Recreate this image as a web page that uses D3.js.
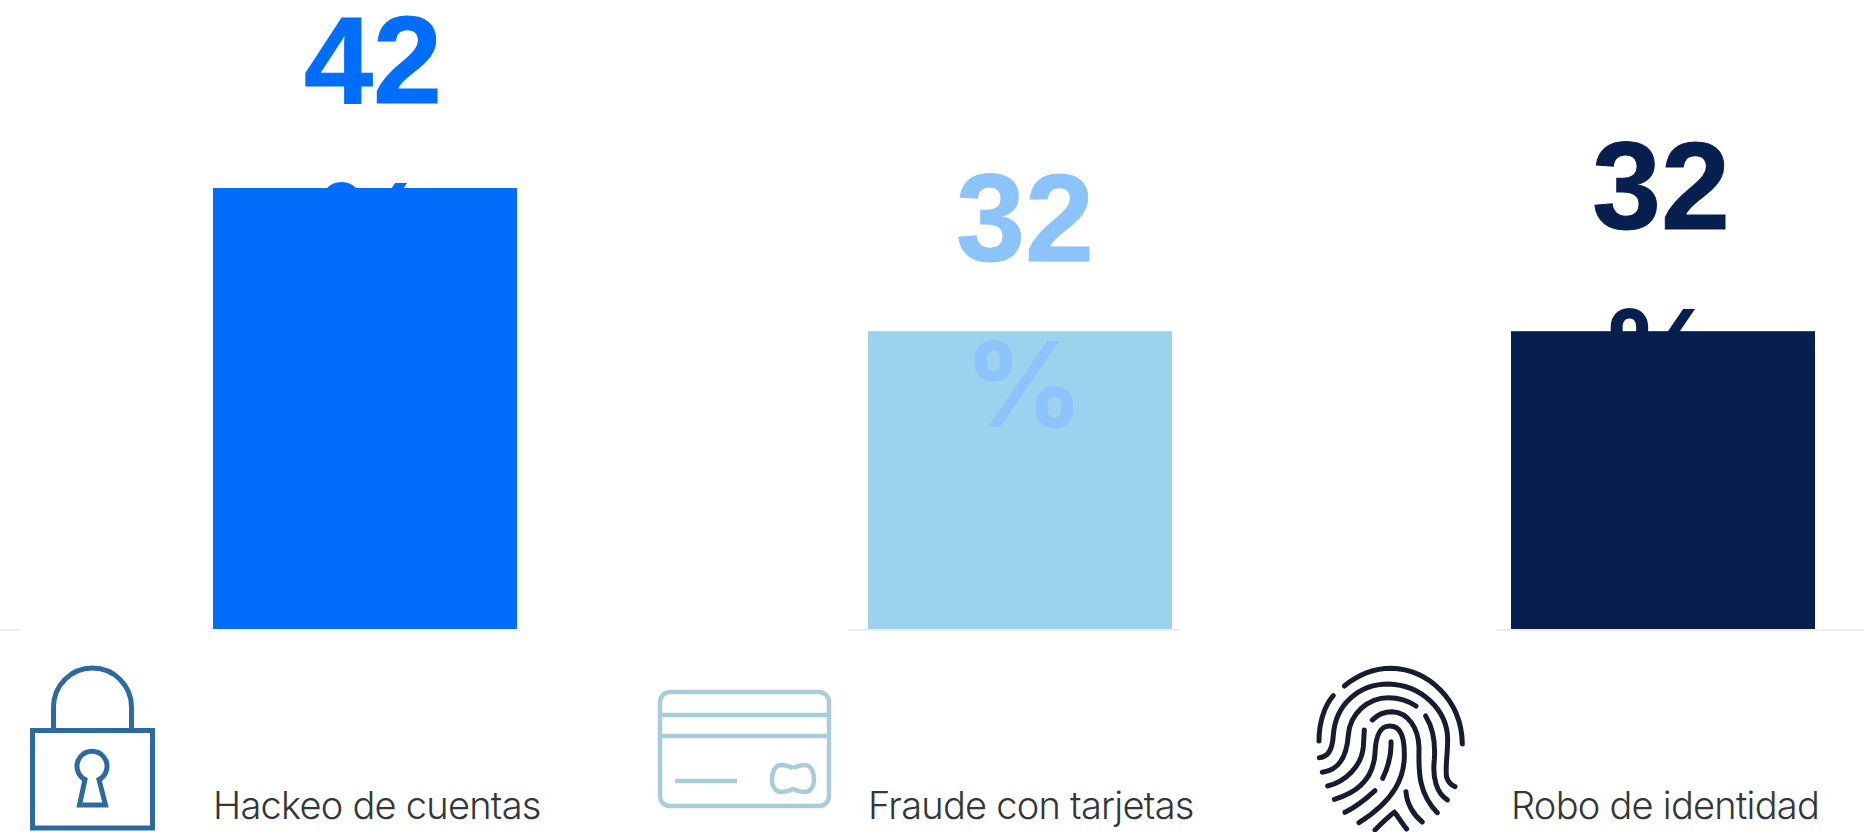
<!DOCTYPE html>
<html>
<head>
<meta charset="utf-8">
<script src="https://cdn.jsdelivr.net/npm/d3@7"></script>
<style>
  html, body { margin: 0; padding: 0; background: #fff; overflow: hidden; }
  svg { display: block; }
</style>
</head>
<body>
<script>
// Data
const categories = ["Hackeo de cuentas", "Fraude con tarjetas", "Robo de identidad"];
const values = [42, 32, 32];

const width = 1864, height = 832;
const svg = d3.select("body").append("svg")
    .attr("width", width)
    .attr("height", height)
    .style("background-color", "white");

// The bars do not start at zero in the original, and they are not evenly spaced
const x = d3.scaleOrdinal().domain(categories).range([213, 868, 1511]);
const y = d3.scaleLinear().domain([11.2, 42]).range([629, 188]);
const barWidth = 304;

const barColor = d3.scaleOrdinal().domain(categories).range(["#006dfb", "#9dd2ee", "#061f4e"]);
const labelColor = d3.scaleOrdinal().domain(categories).range(["#006dfb", "#8cc3fb", "#061f4e"]);
const labelX = d3.scaleOrdinal().domain(categories).range([373, 1025, 1661]);
const labelY = d3.scaleOrdinal().domain(categories).range([103, 261, 229]);

// Faint baseline scraps left in the source image
const baseline = svg.append("g")
    .attr("stroke", "#e9e9e9")
    .attr("stroke-width", 1.5);
[[0, 20], [848, 1180], [1496, 1864]].forEach(s => {
    baseline.append("line").attr("x1", s[0]).attr("x2", s[1]).attr("y1", 630).attr("y2", 630);
});

svg.selectAll("rect.bar")
    .data(categories)
    .enter().append("rect")
    .attr("class", "bar")
    .attr("x", d => x(d))
    .attr("y", (d, i) => y(values[i]))
    .attr("width", barWidth)
    .attr("height", (d, i) => y.range()[0] - y(values[i]))
    .attr("fill", d => barColor(d));

// Value and % sit on two lines, the % runs over the bar
const labels = svg.selectAll("g.label")
    .data(categories)
    .enter().append("g")
    .attr("class", "label")
    .attr("font-weight", "bold")
    .attr("text-anchor", "middle")
    .attr("fill", d => labelColor(d));

labels.append("text")
    .attr("x", d => labelX(d))
    .attr("y", d => labelY(d))
    .attr("font-family", "'Liberation Sans', Arial, sans-serif")
    .attr("font-size", 124)
    .attr("stroke", d => labelColor(d))
    .attr("stroke-width", 1)
    .text((d, i) => values[i]);

labels.append("text")
    .attr("x", d => labelX(d) - 1)
    .attr("y", d => labelY(d) + 166)
    .attr("font-family", "Inter, sans-serif")
    .attr("font-size", 118)
    .text("%");

svg.selectAll("text.category")
    .data(categories)
    .enter().append("text")
    .attr("class", "category")
    .attr("x", d => x(d))
    .attr("y", 819)
    .attr("font-family", "Inter, sans-serif")
    .attr("font-weight", 300)
    .attr("font-size", 38)
    .attr("letter-spacing", -0.75)
    .attr("fill", "#33363b")
    .text(d => d);

// Lock icon
const lock = svg.append("g")
    .attr("fill", "none")
    .attr("stroke", "#2e6aa2")
    .attr("stroke-width", 5);
lock.append("rect").attr("x", 32.5).attr("y", 730.5).attr("width", 120).attr("height", 97.5);
lock.append("path").attr("d", "M53.5 730 V707 A39 39 0 0 1 131.5 707 V730");
lock.append("path").attr("d", "M85 779.5 A15 15 0 1 1 99 779.5 L105.5 805 H79.5 Z");

// Card icon
const card = svg.append("g")
    .attr("fill", "none")
    .attr("stroke", "#aacbda")
    .attr("stroke-width", 4.5);
card.append("rect").attr("x", 660).attr("y", 692).attr("width", 169).attr("height", 114).attr("rx", 10);
card.append("line").attr("x1", 660).attr("x2", 829).attr("y1", 715).attr("y2", 715);
card.append("line").attr("x1", 660).attr("x2", 829).attr("y1", 736).attr("y2", 736);
card.append("line").attr("x1", 675).attr("x2", 737).attr("y1", 781).attr("y2", 781);
card.append("path").attr("d", "M793 768 C789 766 785 765 782 765 C775 765 772 772 772 779 C772 786 775 792 782 792 C785 792 789 791 793 789 C797 791 801 792 804 792 C811 792 814 786 814 779 C814 772 811 765 804 765 C801 765 797 766 793 768");

// Fingerprint icon, ridges in order from the outside in
const ridges = [
    "M118 78 C165 40 215 25 258 25 C370 28 470 120 472 252",
    "M85 107 C60 135 42 185 42 243",
    "M43 293 C70 290 82 270 85 225 C92 130 165 72 250 72 C350 75 428 150 428 240 C428 280 420 330 425 352 C430 368 440 376 450 380",
    "M52 337 C100 330 125 295 130 225 C135 160 190 113 250 113 C285 113 310 122 333 138",
    "M68 378 C120 365 170 320 175 260 L178 210",
    "M362 168 C385 205 392 245 388 300 C382 355 395 400 427 420",
    "M202 180 C220 160 240 155 262 155 C310 157 340 205 342 262 C342 320 335 395 397 458",
    "M88 418 C150 400 205 360 210 280 C212 225 225 198 255 198 C285 198 298 225 298 280 C300 350 270 420 162 488",
    "M258 245 C260 285 250 320 233 355",
    "M120 457 C155 440 185 415 210 392",
    "M303 395 C305 430 325 465 352 486",
    "M210 510 C230 490 250 470 268 457 C280 470 290 490 305 507"
];
svg.append("g")
    .attr("transform", "translate(1305,660) scale(0.3333)")
    .selectAll("path")
    .data(ridges)
    .enter().append("path")
    .attr("d", d => d)
    .attr("fill", "none")
    .attr("stroke", "#161d30")
    .attr("stroke-width", 15)
    .attr("stroke-linecap", "round");
</script>
</body>
</html>
